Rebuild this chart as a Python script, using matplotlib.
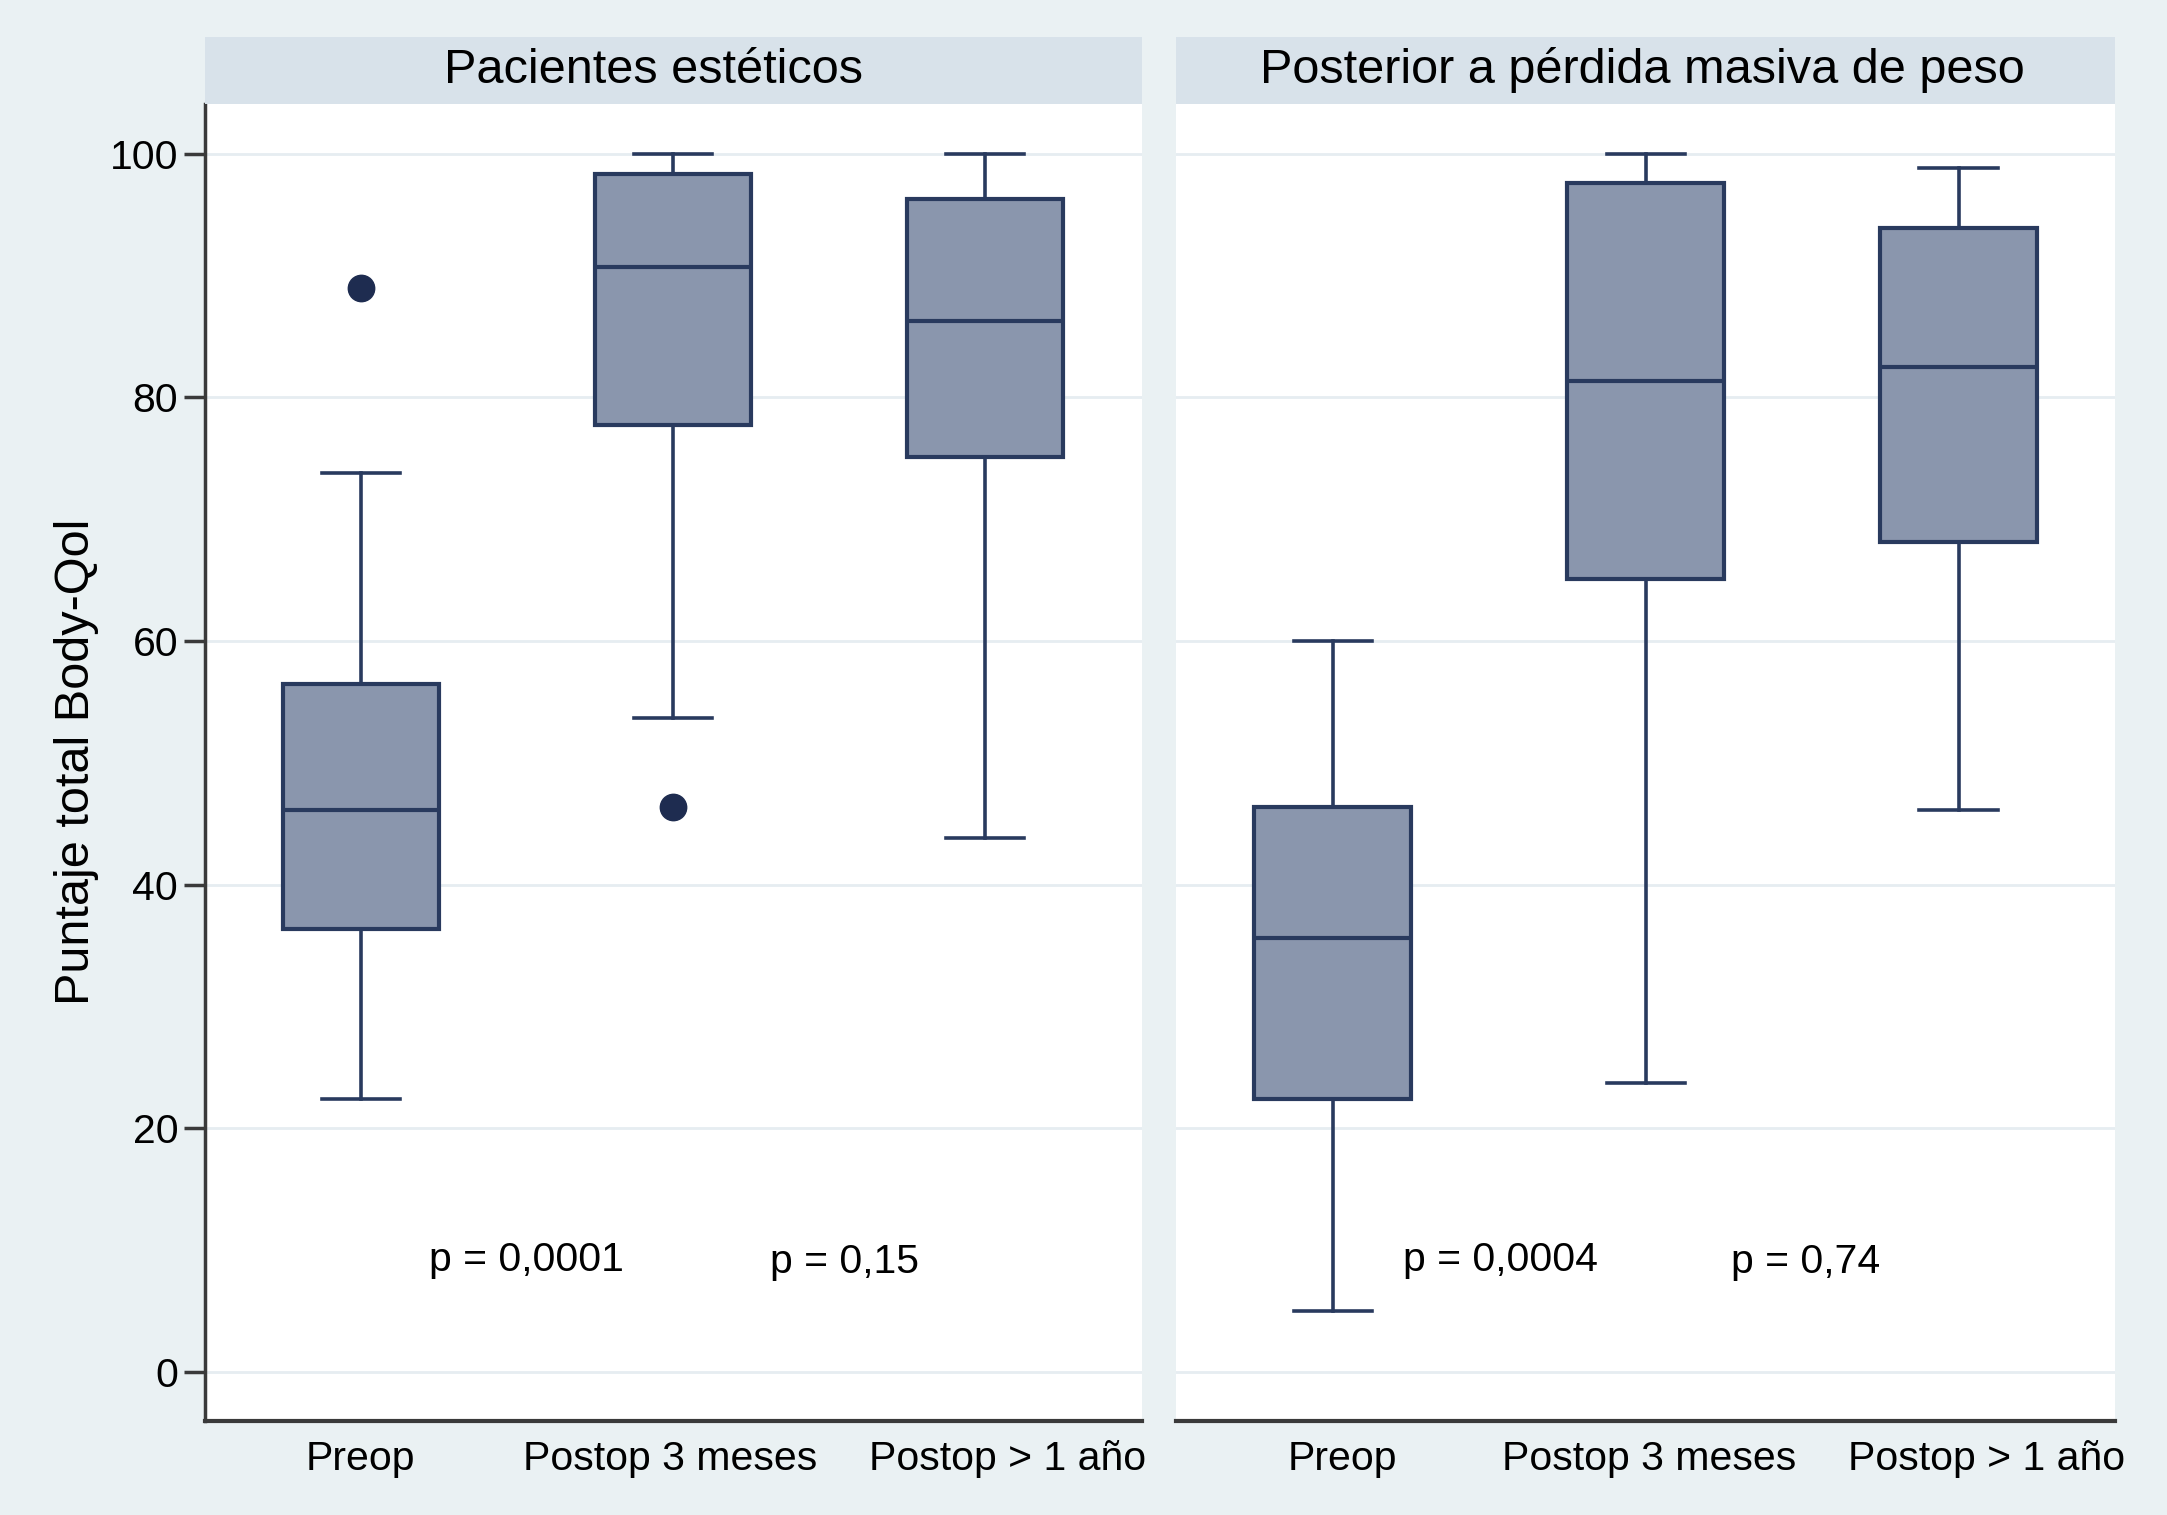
import matplotlib
matplotlib.use("Agg")
import matplotlib.pyplot as plt

plt.rcParams['font.family'] = ['Liberation Sans', 'DejaVu Sans']

# Data
categories = ["Preop", "Postop 3 meses", "Postop > 1 año"]
panels = ["Pacientes estéticos", "Posterior a pérdida masiva de peso"]

# (whislo, q1, med, q3, whishi) per category
est_whislo = [22.4, 53.7, 43.8]
est_q1 = [36.4, 77.7, 75.1]
est_med = [46.1, 90.7, 86.3]
est_q3 = [56.5, 98.3, 96.3]
est_whishi = [73.8, 100.0, 100.0]
est_fliers = [[89.0], [46.4], []]

pmp_whislo = [5.0, 23.7, 46.1]
pmp_q1 = [22.4, 65.1, 68.1]
pmp_med = [35.6, 81.3, 82.5]
pmp_q3 = [46.4, 97.6, 93.9]
pmp_whishi = [60.0, 100.0, 98.8]
pmp_fliers = [[], [], []]

est_pvals = ["p = 0,0001", "p = 0,15"]
pmp_pvals = ["p = 0,0004", "p = 0,74"]
pval_y = [9.2, 9.0]

yticks = [0, 20, 40, 60, 80, 100]

BG = "#eaf1f3"
STRIP = "#d8e2ea"
FILL = "#8a96ad"
EDGE = "#293a5e"
GRID = "#e6edf1"


def make_stats(wlo, q1, med, q3, whi, fl):
    out = []
    for i in range(len(med)):
        out.append(dict(whislo=wlo[i], q1=q1[i], med=med[i], q3=q3[i],
                        whishi=whi[i], fliers=fl[i]))
    return out


fig = plt.figure(figsize=(21.67, 15.15), dpi=100, facecolor=BG)

panel_x = [(0.0944, 0.4324), (0.5428, 0.4332)]
ax_bottom, ax_h = 0.0622, 0.8694
strip_h = 0.0438
# label / annotation positions in data units (layout only)
label_pos = [[1.0, 1.99, 3.07], [1.03, 2.01, 3.09]]
pval_x = [[1.53, 2.55], [1.535, 2.51]]
title_x = [0.479, 0.497]

all_stats = [make_stats(est_whislo, est_q1, est_med, est_q3, est_whishi, est_fliers),
             make_stats(pmp_whislo, pmp_q1, pmp_med, pmp_q3, pmp_whishi, pmp_fliers)]
all_pvals = [est_pvals, pmp_pvals]

for k in range(2):
    x0, w = panel_x[k]
    ax = fig.add_axes([x0, ax_bottom, w, ax_h], facecolor="white")
    ax.bxp(all_stats[k], positions=[1, 2, 3], widths=0.5, patch_artist=True,
           showfliers=True, manage_ticks=False,
           boxprops=dict(facecolor=FILL, edgecolor=EDGE, linewidth=3),
           medianprops=dict(color=EDGE, linewidth=3),
           whiskerprops=dict(color=EDGE, linewidth=2.6),
           capprops=dict(color=EDGE, linewidth=2.6),
           flierprops=dict(marker='o', markerfacecolor="#1e2c50",
                           markeredgecolor="#1e2c50", markersize=19))
    ax.set_xlim(0.5, 3.5)
    ax.set_ylim(-4.0, 104.1)
    ax.set_yticks(yticks)
    ax.set_xticks(label_pos[k])
    ax.set_xticklabels(categories, fontsize=29.5)
    ax.yaxis.grid(True, color=GRID, linewidth=2)
    ax.set_axisbelow(True)
    for s in ["top", "right"]:
        ax.spines[s].set_visible(False)
    ax.spines["bottom"].set_linewidth(3)
    ax.spines["bottom"].set_color("#3a3a3a")
    ax.tick_params(axis='x', length=0, pad=14)
    if k == 0:
        ax.spines["left"].set_linewidth(2.5)
        ax.spines["left"].set_color("#3a3a3a")
        ax.tick_params(axis='y', labelsize=29.5, length=15, width=2.5,
                       color="#3a3a3a", pad=4)
        ax.set_ylabel("Puntaje total Body-Qol", fontsize=35, labelpad=8)
    else:
        ax.spines["left"].set_visible(False)
        ax.tick_params(axis='y', left=False, labelleft=False)
    for i, txt in enumerate(all_pvals[k]):
        ax.text(pval_x[k][i], pval_y[i], txt, fontsize=29.5, ha='center', va='center')

    sax = fig.add_axes([x0, ax_bottom + ax_h, w, strip_h], facecolor=STRIP)
    sax.set_xticks([])
    sax.set_yticks([])
    for s in sax.spines.values():
        s.set_visible(False)
    sax.text(title_x[k], 0.5, panels[k], fontsize=35, ha='center', va='center',
             transform=sax.transAxes)

fig.savefig("out.png", dpi=100, facecolor=BG)
